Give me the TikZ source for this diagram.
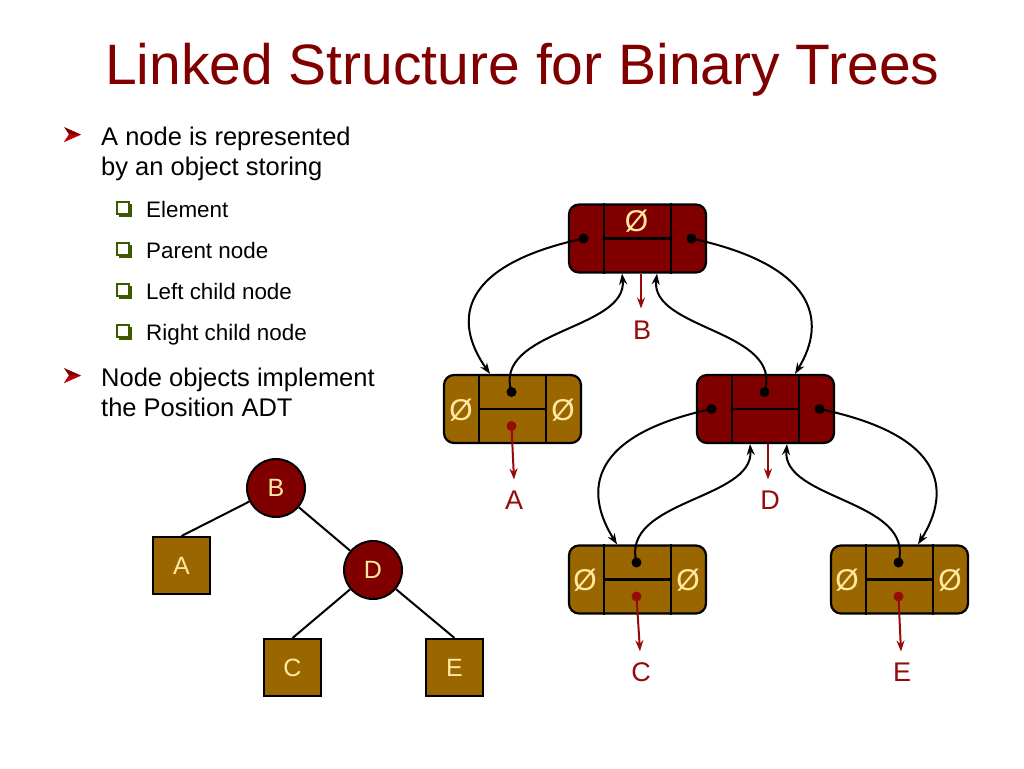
\documentclass[tikz,border=0pt]{standalone}
\usepackage{fontspec}
\setmainfont{Liberation Sans}
\usetikzlibrary{calc,arrows.meta}
\definecolor{dred}{RGB}{128,0,0}
\definecolor{lred}{RGB}{150,10,10}
\definecolor{brn}{RGB}{153,102,0}
\definecolor{cream}{RGB}{255,232,160}
\definecolor{olive}{RGB}{60,90,0}
\tikzset{
  lbox/.style={rectangle, rounded corners=10pt, minimum width=137pt, minimum height=68pt, draw=black, line width=2.2pt, inner sep=0pt},
  cellline/.style={draw=black, line width=2.2pt},
  ptr/.style={draw=black, line width=2pt, -{Stealth[length=11pt,width=8pt]}},
  eptr/.style={draw=lred, line width=2pt, -{Stealth[length=11pt,width=8pt]}},
  bdot/.style={circle, fill=black, inner sep=0pt, minimum size=10pt},
  rdot/.style={circle, fill=lred, inner sep=0pt, minimum size=10pt},
  nul/.style={text=cream, font=\fontsize{30}{32}\selectfont, inner sep=0pt},
  lab/.style={text=lred, font=\fontsize{27}{30}\selectfont, inner sep=0pt},
  tcirc/.style={circle, minimum size=58pt, fill=dred, draw=black, line width=2pt, inner sep=0pt, text=cream, font=\fontsize{25}{28}\selectfont},
  tsq/.style={rectangle, minimum size=57pt, fill=brn, draw=black, line width=2pt, inner sep=0pt, text=cream, font=\fontsize{25}{28}\selectfont},
  tedge/.style={draw=black, line width=2pt},
  btxt/.style={anchor=base west, inner sep=0pt, font=\fontsize{25.5}{30}\selectfont},
  stxt/.style={anchor=base west, inner sep=0pt, font=\fontsize{22.4}{26}\selectfont}
}
\newcommand\lnode[4]{%
  \node[lbox, fill=#4] (#1) at (#2,#3) {};
  \draw[cellline] ($(#1.north)+(-33.5,0)$) -- ($(#1.south)+(-33.5,0)$);
  \draw[cellline] ($(#1.north)+(33.5,0)$) -- ($(#1.south)+(33.5,0)$);
  \draw[cellline] ($(#1.center)+(-33.5,0)$) -- ($(#1.center)+(33.5,0)$);
  \coordinate (#1-l) at ($(#1.center)+(-54,0)$);
  \coordinate (#1-r) at ($(#1.center)+(54,0)$);
  \coordinate (#1-p) at ($(#1.center)+(-1,-17)$);
  \coordinate (#1-e) at ($(#1.center)+(-1,17)$);
}
\newcommand\bulletA[2]{%
  \fill[dred] (#1,#2) -- (#1+17,#2+7.5) -- (#1,#2+15) -- (#1+5,#2+7.5) -- cycle;
  \fill[red!55!dred] (#1+5,#2+7.5) -- (#1+17,#2+7.5) -- (#1,#2+15) -- cycle;
}
\newcommand\bulletB[2]{%
  \fill[olive] (#1+2,#2+2) rectangle (#1+15,#2+15);
  \filldraw[fill=white, draw=olive, line width=1.2pt] (#1,#2) rectangle (#1+12,#2+12);
}
\begin{document}
\begin{tikzpicture}[x=1pt,y=-1pt]
\useasboundingbox (0,0) rectangle (1024,768);

% title
\node[anchor=base west, inner sep=0pt, text=dred, font=\fontsize{57}{60}\selectfont] (title) at (105,84) {Linked Structure for Binary Trees};

% bullets
\bulletA{64}{127}
\node[btxt] (t1) at (101,145) {A node is represented};
\node[btxt] (t2) at (101,175) {by an object storing};
\bulletB{117}{202}
\node[stxt] (s1) at (146,217) {Element};
\bulletB{117}{243}
\node[stxt] (s2) at (146,258) {Parent node};
\bulletB{117}{284}
\node[stxt] (s3) at (146,299) {Left child node};
\bulletB{117}{325}
\node[stxt] (s4) at (146,340) {Right child node};
\bulletA{64}{368}
\node[btxt] (t3) at (101,386) {Node objects implement};
\node[btxt] (t4) at (101,416) {the Position ADT};

% small tree
\node[tcirc] (tB) at (276,488) {B};
\node[tcirc] (tD) at (373,570) {D};
\node[tsq] (tA) at (181.5,565.5) {A};
\node[tsq] (tC) at (292.5,667.5) {C};
\node[tsq] (tE) at (454.5,667.5) {E};
\draw[tedge] (tB) -- (tA.north);
\draw[tedge] (tB) -- (tD);
\draw[tedge] (tD) -- (tC.north);
\draw[tedge] (tD) -- (tE.north);

% linked structure
\lnode{nB}{637.5}{238.5}{dred}
\lnode{nA}{512.5}{409}{brn}
\lnode{nD}{765.5}{409}{dred}
\lnode{nC}{637.5}{579.5}{brn}
\lnode{nE}{899.5}{579.5}{brn}

% null markers
\node[nul] (z1) at ($(nB.center)+(-1,-17)$) {Ø};
\node[nul] (z2) at ($(nA.center)+(-51.5,1)$) {Ø};
\node[nul] (z3) at ($(nA.center)+(50.5,1)$) {Ø};
\node[nul] (z4) at ($(nC.center)+(-52.5,1)$) {Ø};
\node[nul] (z5) at ($(nC.center)+(50.5,1)$) {Ø};
\node[nul] (z6) at ($(nE.center)+(-52.5,1)$) {Ø};
\node[nul] (z7) at ($(nE.center)+(50.5,1)$) {Ø};

% element labels
\node[lab] (lB) at (642,330) {B};
\node[lab] (lA) at (514,500) {A};
\node[lab] (lD) at (770,500) {D};
\node[lab] (lC) at (641,672) {C};
\node[lab] (lE) at (902,672) {E};

% element pointers
\coordinate (eB) at ($(nB.south)+(3.5,0)$);
\coordinate (eD) at ($(nD.south)+(2.5,0)$);
\draw[eptr] (eB) -- ($(lB.north)+(-1,-12)$);
\draw[eptr] (eD) -- ($(lD.north)+(-2,-11)$);
\draw[eptr] (nA-e) -- ($(lA.north)+(0,-11)$);
\draw[eptr] (nC-e) -- ($(lC.north)+(-1,-11)$);
\draw[eptr] (nE-e) -- ($(lE.north)+(-1,-11)$);
\node[rdot] at (nA-e) {};
\node[rdot] at (nC-e) {};
\node[rdot] at (nE-e) {};

% target points
\coordinate (Bbl) at ($(nB.south)+(-15.5,0)$);
\coordinate (Bbr) at ($(nB.south)+(19.5,0)$);
\coordinate (Dbl) at ($(nD.south)+(-15.5,0)$);
\coordinate (Dbr) at ($(nD.south)+(21.5,0)$);
\coordinate (Atop) at ($(nA.north)+(-22.5,0)$);
\coordinate (Dtop) at ($(nD.north)+(29.5,0)$);
\coordinate (Ctop) at ($(nC.north)+(-20.5,0)$);
\coordinate (Etop) at ($(nE.north)+(18.5,0)$);

% child pointers
\draw[ptr] (nB-l) .. controls (460,265) and (452,320) .. (Atop);
\draw[ptr] (nB-r) .. controls (815,265) and (828,320) .. (Dtop);
\draw[ptr] (nD-l) .. controls (590,435) and (583,490) .. (Ctop);
\draw[ptr] (nD-r) .. controls (945,435) and (952,490) .. (Etop);
% parent pointers
\draw[ptr] (nA-p) .. controls (492,330) and (628,330) .. (Bbl);
\draw[ptr] (nD-p) .. controls (784,330) and (650,330) .. (Bbr);
\draw[ptr] (nC-p) .. controls (620,500) and (754,500) .. (Dbl);
\draw[ptr] (nE-p) .. controls (915,500) and (782,500) .. (Dbr);

\foreach \n in {nB-l,nB-r,nD-l,nD-r,nA-p,nD-p,nC-p,nE-p} \node[bdot] at (\n) {};
\end{tikzpicture}
\end{document}
